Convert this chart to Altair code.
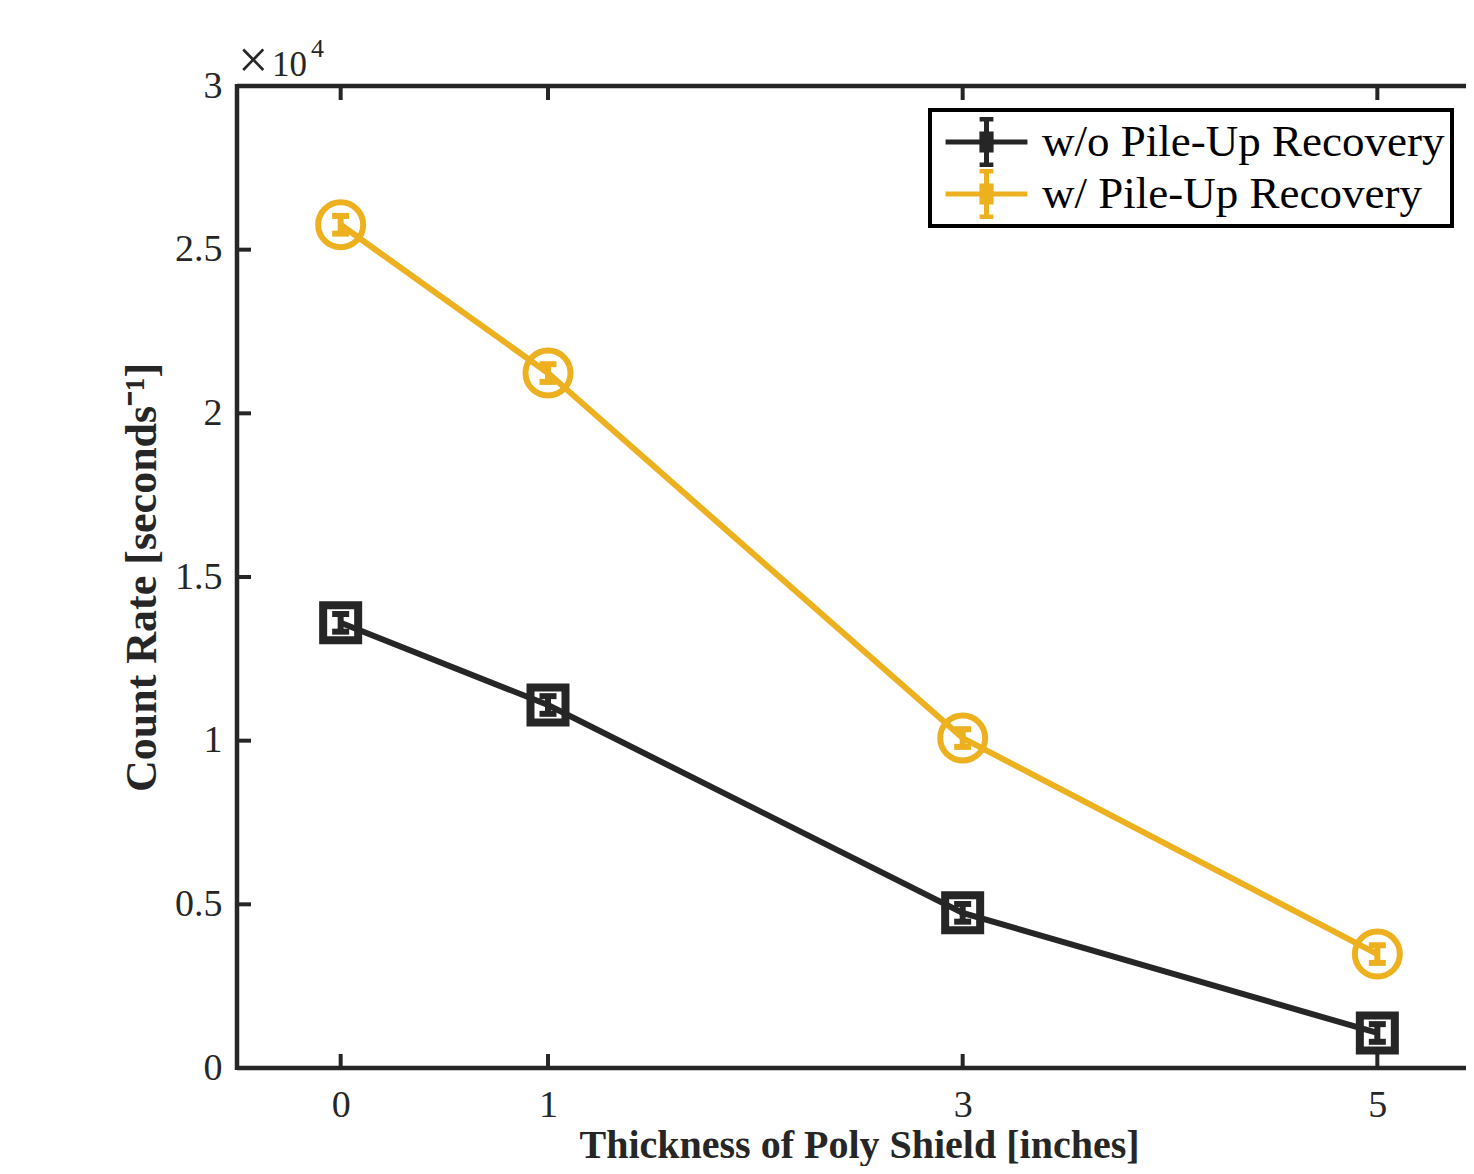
import altair as alt
import pandas as pd

# ---- data ----
thickness = [0, 1, 3, 5]
rate_without = [13600, 11090, 4740, 1070]
rate_with = [25760, 21230, 10080, 3480]
err_without = [270, 270, 270, 270]
err_with = [270, 270, 270, 270]
series_names = ["w/o Pile-Up Recovery", "w/ Pile-Up Recovery"]
series_colors = ["#262626", "#EDB120"]
x_ticks = [0, 1, 3, 5]
y_ticks = [0, 5000, 10000, 15000, 20000, 25000, 30000]

W_FULL, H = 1244, 982      # full plot box (right edge lies just off-page)
W_VIEW = 1229              # part of it that fits on the page
FONT = "Liberation Serif"
AX = "#262626"

rows = []
for name, vals, errs in [(series_names[0], rate_without, err_without),
                         (series_names[1], rate_with, err_with)]:
    for t, v, e in zip(thickness, vals, errs):
        rows.append({"t": t, "v": v, "lo": v - e, "hi": v + e, "s": name})
df = pd.DataFrame(rows)
df_b = df[df.s == series_names[0]]
df_y = df[df.s == series_names[1]]

xs = alt.Scale(domain=[-0.5, 5.5], range=[0, W_FULL], nice=False, zero=False)
ys = alt.Scale(domain=[0, 30000], nice=False)
cs = alt.Scale(domain=series_names, range=series_colors)

sym_path = ("M-1.78,0H1.78M0,-1V1M-0.3,-1H0.3M-0.3,1H0.3"
            "M-0.2,-0.35H0.2V0.35H-0.2Z")

base = alt.Chart(df)

lines = base.mark_line(strokeWidth=6).encode(
    x=alt.X("t:Q", scale=xs,
            axis=alt.Axis(values=x_ticks, format="d", title="Thickness of Poly Shield [inches]",
                          titleX=W_FULL / 2,
                          grid=False, ticks=False, domain=False,
                          labelFont=FONT, labelFontSize=38, labelColor=AX,
                          labelPadding=18, titleFont=FONT, titleFontSize=40,
                          titleFontWeight="bold", titleColor=AX, titlePadding=1)),
    y=alt.Y("v:Q", scale=ys,
            axis=alt.Axis(values=y_ticks, title="Count Rate [seconds⁻¹]",
                          labelExpr="datum.value / 10000",
                          grid=False, ticks=False, domain=False,
                          labelFont=FONT, labelFontSize=38, labelColor=AX,
                          labelPadding=15, titleFont=FONT, titleFontSize=44,
                          titleFontWeight="bold", titleColor=AX, titlePadding=10)),
    color=alt.Color("s:N", scale=cs, sort=series_names,
                    legend=alt.Legend(title=None, orient="none", legendX=693, legendY=24,
                                      symbolType=sym_path, symbolSize=2116,
                                      symbolStrokeWidth=5, symbolOffset=24,
                                      labelFont=FONT, labelLimit=0,
                                      labelExpr="datum.label + ' '",
                                      labelFontSize=45, labelColor="#000000",
                                      labelOffset=30, padding=7, rowPadding=2,
                                      clipHeight=50,
                                      strokeColor="#000000",
                                      fillColor="#ffffff")),
    detail="s:N",
)

err_rules = base.mark_rule(strokeWidth=6, opacity=1).encode(
    x=alt.X("t:Q", scale=xs), y=alt.Y("lo:Q", scale=ys), y2="hi:Q",
    color=alt.Color("s:N", scale=cs, legend=None))
cap_lo = base.mark_tick(thickness=6, size=17, orient="horizontal", opacity=1).encode(
    x=alt.X("t:Q", scale=xs), y=alt.Y("lo:Q", scale=ys),
    color=alt.Color("s:N", scale=cs, legend=None))
cap_hi = base.mark_tick(thickness=6, size=17, orient="horizontal", opacity=1).encode(
    x=alt.X("t:Q", scale=xs), y=alt.Y("hi:Q", scale=ys),
    color=alt.Color("s:N", scale=cs, legend=None))

pts_b = alt.Chart(df_b).mark_point(shape="square", filled=False, size=1225,
                                   strokeWidth=8, color=series_colors[0], opacity=1).encode(
    x=alt.X("t:Q", scale=xs), y=alt.Y("v:Q", scale=ys))
pts_y = alt.Chart(df_y).mark_point(shape="circle", filled=False, size=2025,
                                   strokeWidth=6, color=series_colors[1], opacity=1).encode(
    x=alt.X("t:Q", scale=xs), y=alt.Y("v:Q", scale=ys))

# plot box (left, top, bottom edges; the right edge lies off-page)
frame_style = dict(strokeWidth=4.5, color=AX)
frame_src = alt.Chart(pd.DataFrame({"k": [0]}))
frame_left = frame_src.mark_rule(**frame_style).encode(x=alt.value(0), y=alt.value(-2), y2=alt.value(H + 2))
frame_top = frame_src.mark_rule(**frame_style).encode(x=alt.value(0), x2=alt.value(W_FULL), y=alt.value(0))
frame_bot = frame_src.mark_rule(**frame_style).encode(x=alt.value(0), x2=alt.value(W_FULL), y=alt.value(H))

# inward ticks (MATLAB style)
xt = alt.Chart(pd.DataFrame({"t": x_ticks}))
yt = alt.Chart(pd.DataFrame({"v": y_ticks}))
tick_style = dict(strokeWidth=4, color=AX)
xt_bot = xt.mark_rule(**tick_style).encode(x=alt.X("t:Q", scale=xs), y=alt.value(H), y2=alt.value(H - 14))
xt_top = xt.mark_rule(**tick_style).encode(x=alt.X("t:Q", scale=xs), y=alt.value(0), y2=alt.value(14))
yt_left = yt.mark_rule(**tick_style).encode(y=alt.Y("v:Q", scale=ys), x=alt.value(0), x2=alt.value(14))
yt_right = yt.mark_rule(**tick_style).encode(y=alt.Y("v:Q", scale=ys), x=alt.value(W_FULL), x2=alt.value(W_FULL - 14))

# exponent label
exp_times = alt.Chart(pd.DataFrame({"txt": ["×"]})).mark_text(
    font=FONT, fontSize=54, align="left", baseline="alphabetic", color=AX).encode(
    text="txt:N", x=alt.value(1), y=alt.value(-8))
exp_ten = alt.Chart(pd.DataFrame({"txt": ["10"]})).mark_text(
    font=FONT, fontSize=35, align="left", baseline="alphabetic", color=AX).encode(
    text="txt:N", x=alt.value(35), y=alt.value(-10))
exp_sup = alt.Chart(pd.DataFrame({"txt": ["4"]})).mark_text(
    font=FONT, fontSize=26, align="left", baseline="alphabetic", color=AX).encode(
    text="txt:N", x=alt.value(74), y=alt.value(-29))

chart = alt.layer(
    frame_left, frame_top, frame_bot,
    xt_bot, xt_top, yt_left, yt_right,
    lines, err_rules, cap_lo, cap_hi, pts_b, pts_y,
    exp_times, exp_ten, exp_sup,
).properties(
    width=W_VIEW, height=H,
    autosize=alt.AutoSizeParams(type="none"),
    padding={"left": 229, "top": 78, "right": 0, "bottom": 98},
    background="#ffffff",
).configure_view(strokeWidth=0, stroke=None
).configure_legend(strokeWidth=4)

chart.save("out.html", embed_options={"renderer": "svg", "actions": False})
